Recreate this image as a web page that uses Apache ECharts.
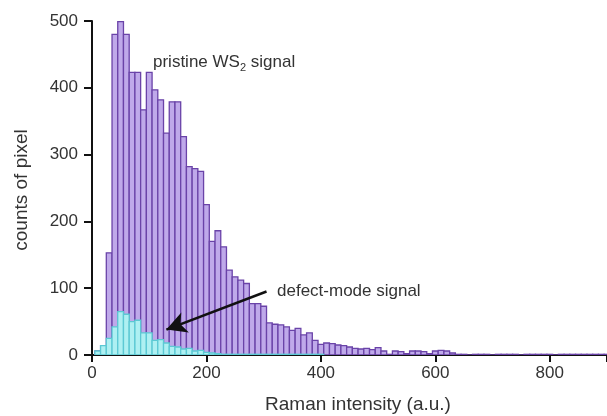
<!DOCTYPE html>
<html>
<head>
<meta charset="utf-8">
<script src="https://cdn.jsdelivr.net/npm/echarts@6/dist/echarts.min.js"></script>
<style>
html,body{margin:0;padding:0;background:#fff;}
#chart{width:607px;height:416px;}
</style>
</head>
<body>
<div id="chart"></div>
<script>
// Histogram bins: left edges (Raman intensity, a.u.), each bin is binWidth wide
const binWidth = 10;
const binLefts = [
  5, 15, 25, 35, 45, 55, 65, 75, 85, 95,
  105, 115, 125, 135, 145, 155, 165, 175, 185, 195,
  205, 215, 225, 235, 245, 255, 265, 275, 285, 295,
  305, 315, 325, 335, 345, 355, 365, 375, 385, 395,
  405, 415, 425, 435, 445, 455, 465, 475, 485, 495,
  505, 515, 525, 535, 545, 555, 565, 575, 585, 595,
  605, 615, 625, 635, 645, 655, 665, 675, 685, 695,
  705, 715, 725, 735, 745, 755, 765, 775, 785, 795,
  805, 815, 825, 835, 845, 855, 865, 875, 885, 895
];
// pristine WS2 signal counts
const pristineCounts = [
  6, 14, 153, 480, 499, 480, 423, 423, 367, 423,
  397, 382, 332, 379, 379, 327, 282, 279, 275, 225,
  170, 186, 162, 127, 117, 112, 107, 77, 77, 73,
  48, 46, 45, 42, 37, 40, 30, 33, 22, 16,
  18, 17, 15, 14, 12, 10, 9, 10, 8, 11,
  6, 1, 6, 5, 2, 6, 6, 5, 2, 6,
  7, 6, 3, 1, 1, 0, 1, 1, 1, 0,
  1, 1, 1, 1, 0, 1, 1, 1, 1, 1,
  0, 1, 1, 1, 1, 1, 1, 1, 1, 1
];
// defect-mode signal counts
const defectCounts = [
  6, 14, 25, 42, 65, 61, 50, 52, 33, 33,
  22, 23, 18, 13, 12, 9, 10, 6, 7, 4,
  3, 2, 1, 1, 1, 1, 1, 1, 1, 1,
  1, 1, 1, 1, 1, 1, 1, 1, 1, 1,
  0, 0, 0, 0, 0, 0, 0, 0, 0, 0,
  0, 0, 0, 0, 0, 0, 0, 0, 0, 0,
  0, 0, 0, 0, 0, 0, 0, 0, 0, 0,
  0, 0, 0, 0, 0, 0, 0, 0, 0, 0,
  0, 0, 0, 0, 0, 0, 0, 0, 0, 0
];
const xTickLabels = [0, 200, 400, 600, 800];
const yTickLabels = [0, 100, 200, 300, 400, 500];

const FONT = '"Liberation Sans", Arial, Helvetica, sans-serif';

function toData(counts) {
  return binLefts.map((l, i) => [l, l + binWidth, counts[i]]);
}
function histRender(fill, stroke, keepZero) {
  return function (params, api) {
    const v = api.value(2);
    if (!keepZero && !(v > 0)) return null;
    const p0 = api.coord([api.value(0), v]);
    const p1 = api.coord([api.value(1), 0]);
    return {
      type: 'rect',
      shape: { x: p0[0], y: p0[1], width: p1[0] - p0[0], height: p1[1] - p0[1] },
      style: { fill: fill, stroke: stroke, lineWidth: 1.3 }
    };
  };
}

const chart = echarts.init(document.getElementById('chart'));
chart.setOption({
  animation: false,
  backgroundColor: '#fff',
  grid: { left: 92, right: 0, top: 21, bottom: 61 },
  xAxis: {
    type: 'value', min: 0, max: 900, interval: 200,
    axisLine: { show: true, onZero: false, lineStyle: { color: '#111', width: 2 } },
    axisTick: { show: true, inside: false, length: 7, lineStyle: { color: '#111', width: 2 } },
    axisLabel: { color: '#333', fontSize: 17, fontFamily: FONT, margin: 10, customValues: xTickLabels },
    splitLine: { show: false }
  },
  yAxis: {
    type: 'value', min: 0, max: 500, interval: 100,
    axisLine: { show: true, lineStyle: { color: '#111', width: 2 } },
    axisTick: { show: true, inside: false, length: 8, lineStyle: { color: '#111', width: 2 } },
    axisLabel: { color: '#333', fontSize: 17, fontFamily: FONT, margin: 14, customValues: yTickLabels },
    splitLine: { show: false }
  },
  series: [
    {
      type: 'custom', name: 'pristine', clip: true,
      encode: { x: [0, 1], y: 2 },
      renderItem: histRender('#bfa9ea', '#6a43a8', true),
      data: toData(pristineCounts),
      z: 2
    },
    {
      type: 'custom', name: 'defect', clip: true,
      encode: { x: [0, 1], y: 2 },
      renderItem: histRender('#aef0f2', '#5cc9d4', false),
      data: toData(defectCounts),
      z: 3,
      markLine: {
        silent: true,
        symbol: ['none', 'arrow'],
        symbolSize: [16, 20],
        label: { show: false },
        lineStyle: { color: '#111', width: 2.5, type: 'solid' },
        data: [[{ coord: [305, 95] }, { coord: [130, 38] }]]
      }
    }
  ],
  graphic: [
    {
      type: 'text', left: 153, top: 54,
      style: {
        text: '{a|pristine WS}{s|2}{a| signal}',
        rich: {
          a: { fontSize: 17, fontFamily: FONT, fill: '#333', lineHeight: 22 },
          s: { fontSize: 11, fontFamily: FONT, fill: '#333', lineHeight: 22, verticalAlign: 'bottom' }
        }
      }
    },
    {
      type: 'text', left: 277, top: 283,
      style: { text: 'defect-mode signal', fontSize: 17, fontFamily: FONT, fill: '#333' }
    },
    {
      type: 'text', x: 358, y: 405,
      style: { text: 'Raman intensity (a.u.)', fontSize: 19, fontFamily: FONT, fill: '#333', align: 'center', verticalAlign: 'middle' }
    },
    {
      type: 'text', x: 22, y: 190, rotation: Math.PI / 2,
      style: { text: 'counts of pixel', fontSize: 19, fontFamily: FONT, fill: '#333', align: 'center', verticalAlign: 'middle' }
    }
  ]
});
</script>
</body>
</html>
